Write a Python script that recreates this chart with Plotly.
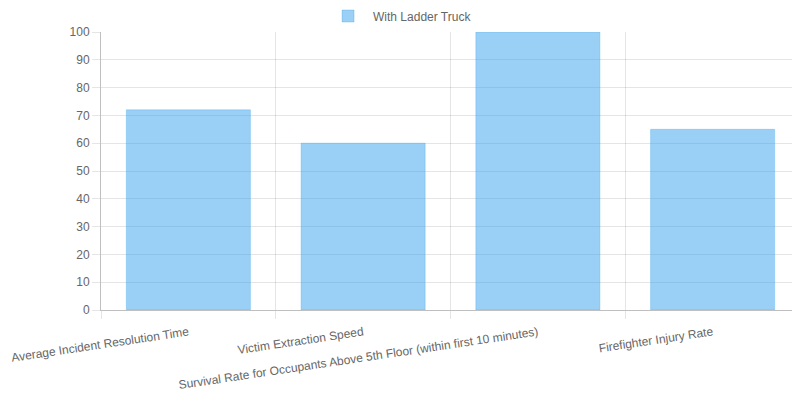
import plotly.graph_objects as go

categories = [
    "Average Incident Resolution Time",
    "Victim Extraction Speed",
    "Survival Rate for Occupants Above 5th Floor (within first 10 minutes)",
    "Firefighter Injury Rate",
]
with_ladder = [72, 60, 100, 65]
series_name = "With Ladder Truck"

fig = go.Figure()
fig.add_trace(go.Bar(
    x=categories,
    y=with_ladder,
    name=series_name,
    marker=dict(color="rgba(54,162,235,0.5)",
                line=dict(color="rgba(54,162,235,0.3)", width=1)),
    showlegend=True,
))

font = dict(family="Liberation Sans, Arial, sans-serif", size=12, color="#666666")
fig.update_layout(
    width=792, height=392,
    margin=dict(l=93, r=0, t=24, b=90, autoexpand=False),
    paper_bgcolor="white", plot_bgcolor="white",
    font=font,
    bargap=0.29,
    showlegend=True,
    legend=dict(orientation="h", xref="container", x=0.495, xanchor="center",
                yref="container", y=1 - 8 / 392, yanchor="middle",
                font=font, itemwidth=40, bgcolor="rgba(0,0,0,0)"),
    xaxis=dict(
        type="category", tickson="boundaries", showgrid=True,
        gridcolor="rgba(0,0,0,0.1)", gridwidth=1,
        ticks="outside", ticklen=8, tickcolor="rgba(0,0,0,0.1)",
        tickangle=-8.5, tickfont=font, automargin=False,
        ticklabelstandoff=10,
        showline=True, linecolor="rgba(0,0,0,0.25)", linewidth=1,
    ),
    yaxis=dict(
        range=[0, 100], dtick=10, showgrid=True,
        gridcolor="rgba(0,0,0,0.1)", gridwidth=1,
        ticks="outside", ticklen=8, tickcolor="rgba(0,0,0,0.1)",
        tickfont=font, showline=True, linecolor="rgba(0,0,0,0.25)",
        zeroline=False, automargin=False,
    ),
)

fig.write_html("out.html")
